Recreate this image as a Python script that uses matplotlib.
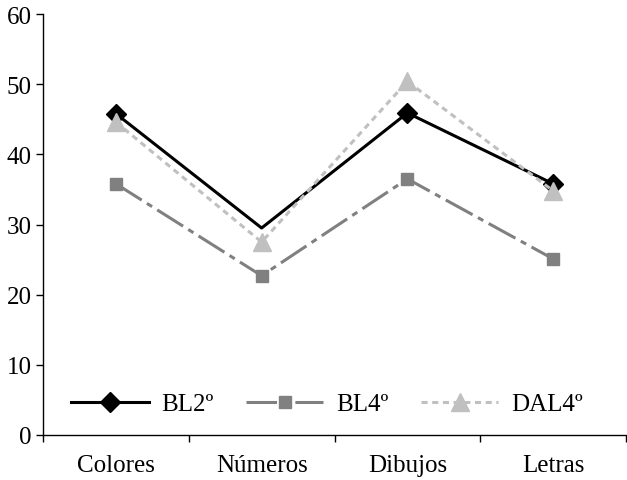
import numpy as np
import matplotlib.pyplot as plt
from matplotlib.ticker import FixedLocator

plt.rcParams['font.family'] = ['Liberation Serif', 'DejaVu Serif']

categorias = ['Colores', 'Números', 'Dibujos', 'Letras']
bl2 = [45.8, 29.5, 45.9, 35.8]
bl4 = [35.8, 22.7, 36.5, 25.1]
dal4 = [44.6, 27.5, 50.4, 34.8]

x = np.arange(len(categorias))

fig = plt.figure(figsize=(6.27, 4.81), dpi=100)
ax = fig.add_axes([43 / 627, 45 / 481, 583 / 627, 421 / 481])

ax.plot(x, bl2, color='black', lw=2.2, marker='D', ms=10, markevery=[0, 2, 3],
        label='BL2º')
ax.plot(x, bl4, color='#808080', lw=2.2, ls=(0, (10, 2, 2, 2)), marker='s', ms=9,
        label='BL4º')
ax.plot(x, dal4, color='#c0c0c0', lw=2.2, ls=(0, (2, 1.5)), marker='^', ms=13,
        label='DAL4º')

ax.set_xlim(-0.5, 3.5)
ax.set_ylim(0, 60)
ax.set_yticks(range(0, 61, 10))
ax.set_xticks(x)
ax.set_xticklabels(categorias)
ax.xaxis.set_minor_locator(FixedLocator(np.arange(-0.5, 4, 1)))
ax.tick_params(axis='x', which='major', length=0, pad=14, labelsize=18)
ax.tick_params(axis='x', which='minor', length=5, width=1, direction='out')
ax.tick_params(axis='y', length=5, width=1, direction='out', labelsize=18, pad=3)

for s in ['top', 'right']:
    ax.spines[s].set_visible(False)
ax.spines['left'].set_linewidth(1)
ax.spines['bottom'].set_linewidth(1)

ax.legend(loc='lower left', bbox_to_anchor=(18 / 583, 0.023), ncol=3, frameon=False,
          fontsize=18, handlelength=3.1, columnspacing=1.3, handletextpad=0.5,
          borderaxespad=0.0)

plt.savefig('out.png', dpi=100)
